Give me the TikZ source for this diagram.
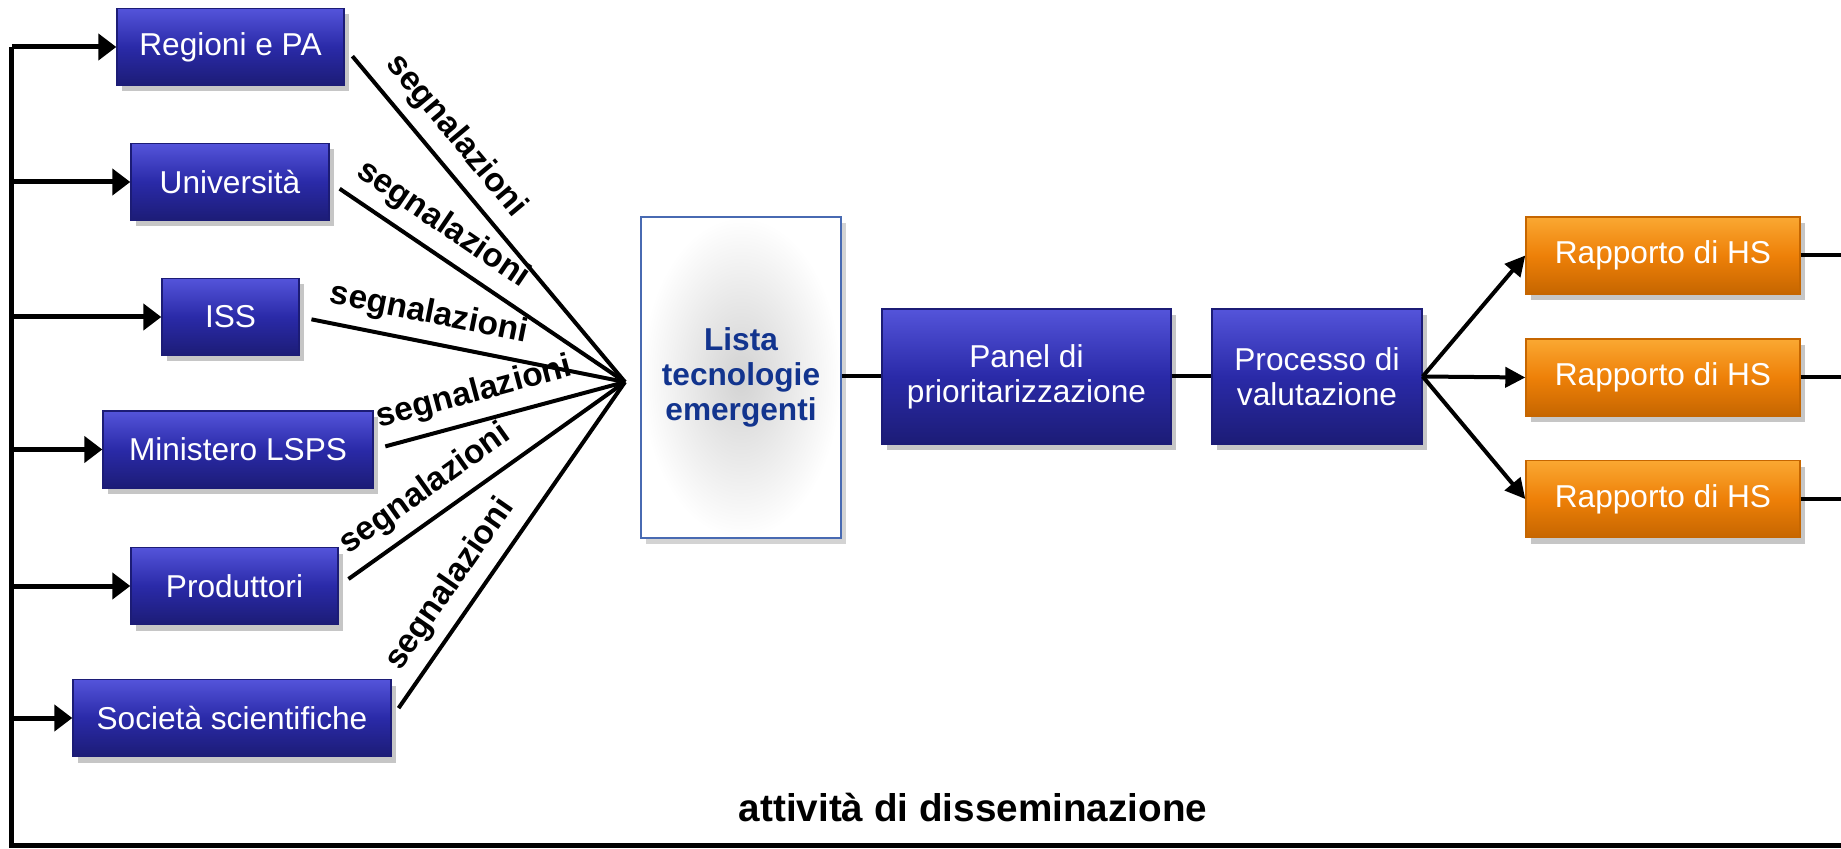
\documentclass[tikz,border=0pt]{standalone}
\usepackage{fontspec}
\setmainfont{Liberation Sans}
\usetikzlibrary{arrows.meta,shadows}
\definecolor{boxtop}{RGB}{84,84,218}
\definecolor{boxmid}{RGB}{42,42,168}
\definecolor{boxbot}{RGB}{28,28,118}
\definecolor{orgtop}{RGB}{250,168,50}
\definecolor{orgmid}{RGB}{238,128,8}
\definecolor{orgbot}{RGB}{198,102,0}
\definecolor{listablue}{RGB}{18,52,142}
\definecolor{listaedge}{RGB}{72,106,178}
\begin{document}
\begin{tikzpicture}[
    bluebox/.style={draw=boxbot, top color=boxtop, bottom color=boxbot, middle color=boxmid,
      text=white, inner sep=0pt, minimum height=0.77cm, align=center,
      font=\fontsize{9}{10}\selectfont,
      drop shadow={shadow xshift=0.5mm, shadow yshift=-0.6mm, opacity=0.45}},
    hsbox/.style={bluebox, draw=orgbot, top color=orgtop, bottom color=orgbot, middle color=orgmid,
      minimum width=2.74cm},
    fan/.style={line width=0.4mm},
    feed/.style={line width=0.5mm, -{Triangle[length=1.8mm,width=2.6mm]}},
    outarrow/.style={line width=0.4mm, -{Triangle[length=2mm,width=2mm]}},
    seg/.style={sloped, above, inner sep=3pt, font=\bfseries\fontsize{9.5}{11}\selectfont}]
    \useasboundingbox (0,0) rectangle (18.41,-8.49);
    % sources
    \node[bluebox, minimum width=2.27cm] (reg) at (2.305,-0.47) {Regioni e PA};
    \node[bluebox, minimum width=1.98cm] (uni) at (2.30,-1.82) {Università};
    \node[bluebox, minimum width=1.37cm] (iss) at (2.305,-3.17) {ISS};
    \node[bluebox, minimum width=2.70cm] (min) at (2.38,-4.495) {Ministero LSPS};
    \node[bluebox, minimum width=2.07cm] (prod) at (2.345,-5.86) {Produttori};
    \node[bluebox, minimum width=3.18cm] (soc) at (2.32,-7.18) {Società scientifiche};
    % middle chain
    \node[draw=listaedge, line width=0.6pt, inner color=gray!35, outer color=white,
      minimum width=2.0cm, minimum height=3.21cm, align=center, text=listablue,
      font=\bfseries\fontsize{9}{10}\selectfont,
      drop shadow={shadow xshift=0.5mm, shadow yshift=-0.6mm, opacity=0.35}]
      (lista) at (7.41,-3.775) {Lista\\tecnologie\\emergenti};
    \node[bluebox, minimum width=2.89cm, minimum height=1.35cm] (panel) at (10.265,-3.765) {Panel di\\prioritarizzazione};
    \node[bluebox, minimum width=2.10cm, minimum height=1.35cm] (proc) at (13.17,-3.765) {Processo di\\valutazione};
    % reports
    \node[hsbox] (hs1) at (16.63,-2.555) {Rapporto di HS};
    \node[hsbox] (hs2) at (16.63,-3.775) {Rapporto di HS};
    \node[hsbox] (hs3) at (16.63,-4.99) {Rapporto di HS};
    \node[font=\bfseries\fontsize{11}{13}\selectfont] (diss) at (9.73,-8.08) {attività di disseminazione};

    \coordinate (fanpt) at (6.25,-3.82);
    \coordinate (dl) at (0.12,-8.45);
    \coordinate (edge) at (18.41,0);

    % feedback loop
    \draw[line width=0.5mm] (dl |- reg.west) -- (dl) -- (dl -| edge);
    \foreach \n in {reg,uni,iss,min,prod,soc}
        \draw[feed] (dl |- \n.west) -- (\n.west);
    % signals
    \foreach \n/\p in {reg/0.32,uni/0.33,iss/0.38,min/0.43,prod/0.36,soc/0.35}
        \draw[fan, shorten <=1.2mm] (\n.east) -- node[seg, pos=\p] (s\n) {segnalazioni} (fanpt);
    \draw[fan] (lista.east |- panel.west) -- (panel.west);
    \draw[fan] (panel.east) -- (proc.west);
    \foreach \n in {hs1,hs2,hs3} {
        \draw[outarrow] (proc.east) -- (\n.west);
        \draw[fan] (\n.east) -- (\n.east -| edge);
    }
\end{tikzpicture}
\end{document}
